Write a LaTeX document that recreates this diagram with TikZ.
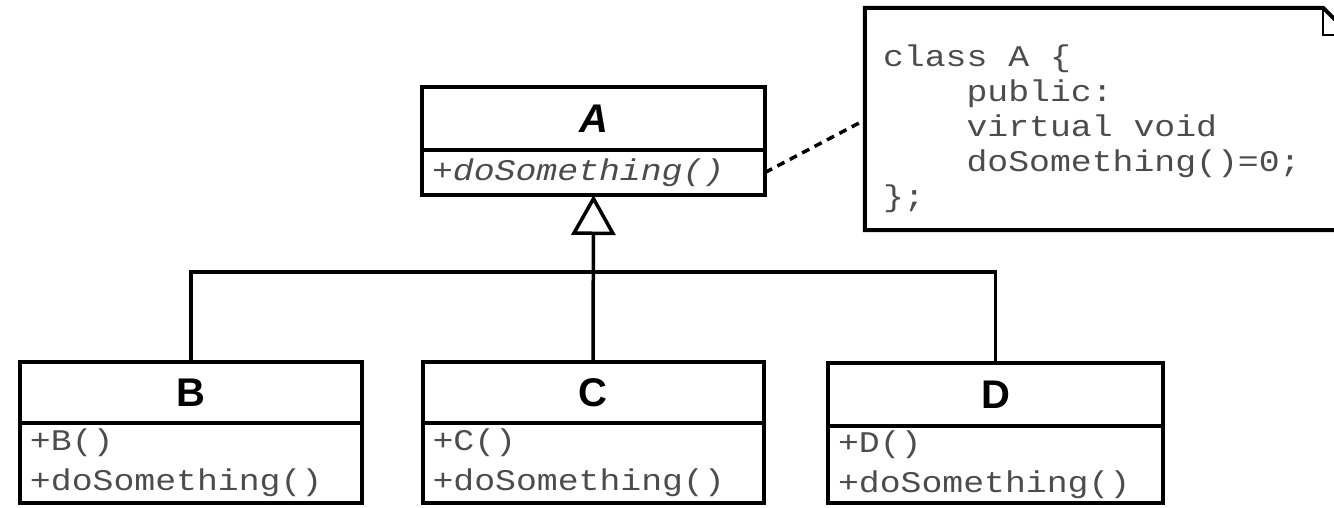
\documentclass[tikz,border=0pt]{standalone}
\usepackage{fontspec}
\setmainfont{Liberation Sans}
\newfontfamily\codefont{Liberation Mono}[FakeStretch=1.16]
\usetikzlibrary{positioning,arrows.meta}

\begin{document}
\begin{tikzpicture}[x=1pt,y=-1pt,
    classname/.style={draw, line width=4pt, outer sep=0pt, minimum height=61pt,
      font=\fontsize{40}{40}\selectfont\bfseries},
    members/.style={draw, line width=4pt, outer sep=0pt, align=left, inner xsep=10pt,
      inner ysep=0pt, text=black!70, font=\codefont\fontsize{30}{40}\selectfont},
    link/.style={line width=3.5pt},
    code/.style={align=left, inner sep=0pt, text=black!70,
      font=\codefont\fontsize{30}{35}\selectfont}]

    \useasboundingbox (0,0) rectangle (1334,507);
    \clip (0,0) rectangle (1334,507);

    % abstract base class
    \node[classname, minimum width=343pt, minimum height=63pt] (A) at (593.5,118.5) {\itshape A};
    \node[members, text width=323pt, minimum height=45pt, below=0pt of A] (Aops) {\itshape +doSomething()};

    % subclasses
    \node[classname, minimum width=342pt] (B) at (191,392.5) {B};
    \node[members, text width=322pt, minimum height=80pt, below=0pt of B] (Bops) {+B()\\+doSomething()};
    \node[classname, minimum width=341pt] (C) at (593,392.5) {C};
    \node[members, text width=321pt, minimum height=80pt, below=0pt of C] (Cops) {+C()\\+doSomething()};
    \node[classname, minimum width=335pt, minimum height=63pt] (D) at (995.5,394.5) {D};
    \node[members, text width=315pt, minimum height=77pt, below=0pt of D] (Dops) {+D()\\+doSomething()};

    % note with folded corner
    \node[minimum width=485pt, minimum height=222pt, inner sep=0pt] (note) at (1107.5,119) {};
    \draw[line width=4pt] (note.north west) -- ([xshift=-27pt]note.north east)
      -- ([yshift=-27pt]note.north east) -- (note.south east) -- (note.south west) -- cycle;
    \draw[line width=2pt] ([xshift=-27pt]note.north east) |- ([yshift=-27pt]note.north east);
    \node[code, anchor=west] (src) at ([xshift=18pt,yshift=-9.5pt]note.west)
      {class A \{\\\phantom{clas}public:\\\phantom{clas}virtual void\\\phantom{clas}doSomething()=0;\\\};};

    % inheritance
    \coordinate (join) at (593,272);
    \draw[link] (B.north) |- (join) -| (D.north);
    \draw[link, -{Triangle[open, length=40pt, width=44pt]}] (C.north) -- (Aops.south);
    \draw[link, dash pattern=on 8pt off 6pt] (Aops.east) -- ([yshift=-1pt]note.west);
\end{tikzpicture}
\end{document}
